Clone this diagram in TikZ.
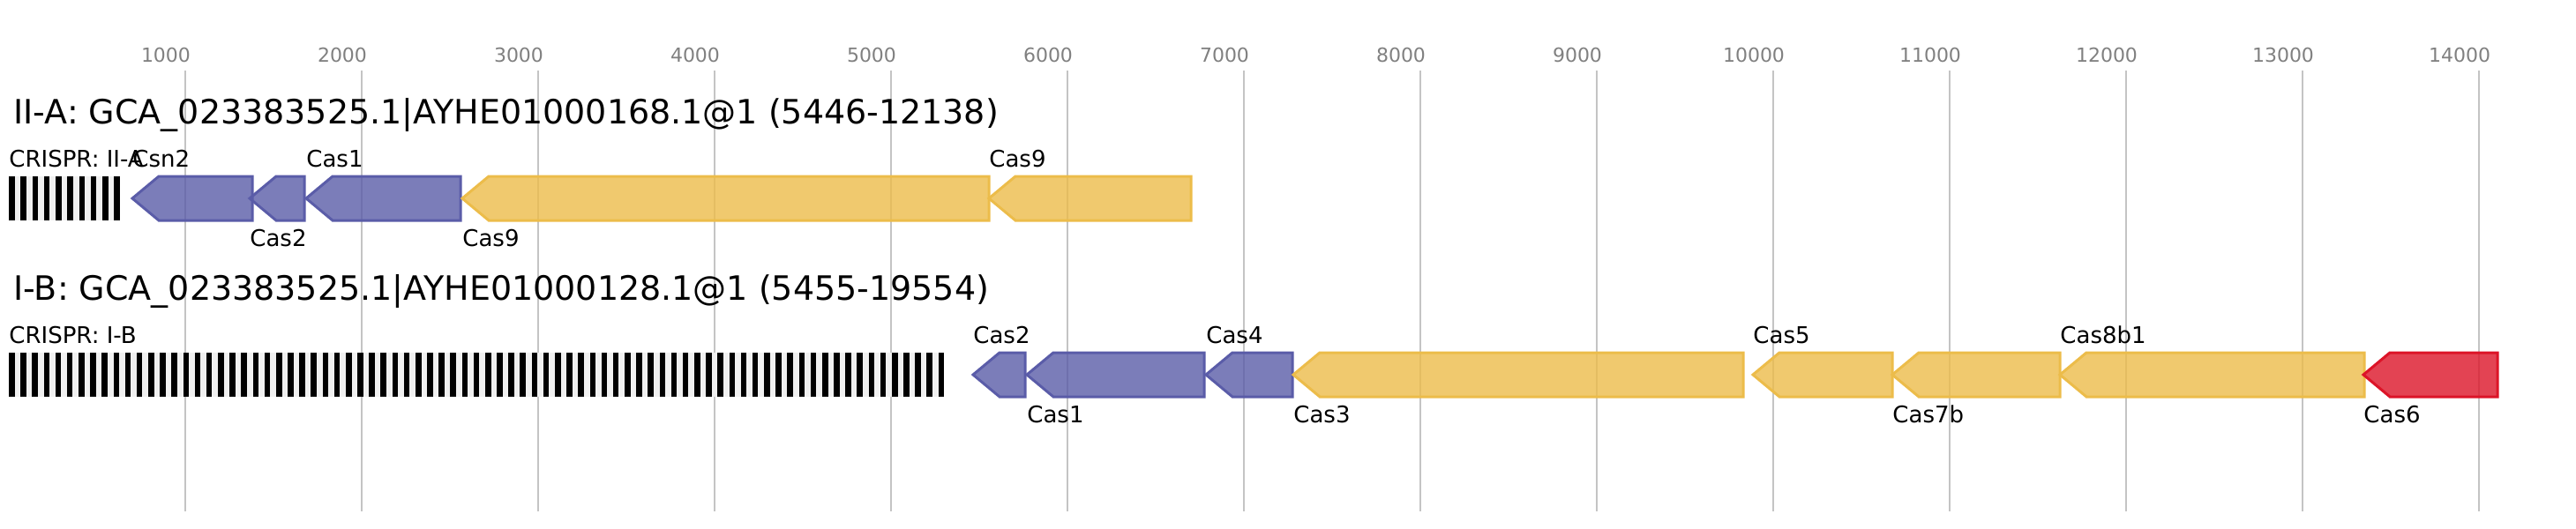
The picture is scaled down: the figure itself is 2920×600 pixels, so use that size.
\documentclass[tikz,border=0pt]{standalone}
\usepackage{fontspec}
\setmainfont{DejaVu Sans}
\definecolor{casblue}{HTML}{5A5CA8}
\definecolor{casyellow}{HTML}{ECBC4A}
\definecolor{casred}{HTML}{DC1428}
\definecolor{gridgray}{HTML}{C4C4C4}
\definecolor{tickgray}{HTML}{808080}
\definecolor{spacergray}{HTML}{F0F0F0}
\tikzset{
  gridline/.style={gridgray, line width=1pt},
  ticklabel/.style={anchor=base, text=tickgray, inner sep=0pt, font=\fontsize{11}{13}\selectfont},
  locustitle/.style={anchor=base west, inner sep=0pt, font=\fontsize{19}{23}\selectfont},
  genelabel/.style={anchor=base west, inner sep=0pt, font=\fontsize{13}{15}\selectfont},
  gene/.style={draw=#1, fill=#1, fill opacity=0.8, line width=1.5pt},
}
\begin{document}
\begin{tikzpicture}[x=0.5pt, y=-0.5pt]
    \useasboundingbox (0,0) rectangle (2920,600);
    \foreach \k in {1,...,14} {
        \draw[gridline] (10+200*\k,80) -- (10+200*\k,580);
        \node[ticklabel] (tick\k) at (200*\k-12,70) {\k000};
    }
    \node[locustitle] (titleA) at (15,140) {II-A: GCA\_023383525.1|AYHE01000168.1@1 (5446-12138)};
    \node[locustitle] (titleB) at (15,340) {I-B: GCA\_023383525.1|AYHE01000128.1@1 (5455-19554)};
    % crispr arrays
    \fill[spacergray] (10,200) rectangle (136,250);
    \foreach \i in {0,...,9} \fill[black] (10+13.26*\i,200) rectangle ++(6.6,50);
    \fill[spacergray] (10,400) rectangle (1070,450);
    \foreach \i in {0,...,80} \fill[black] (10+13.17*\i,400) rectangle ++(6.6,50);
    \node[genelabel] (crisprA) at (10,189) {CRISPR: II-A};
    \node[genelabel] (crisprB) at (10,389) {CRISPR: I-B};
    % II-A genes
    \foreach \tip/\tail/\col in {150/286/casblue, 283/345/casblue, 347/522/casblue, 524/1121/casyellow, 1121/1350/casyellow}
        \draw[gene=\col] (\tip,225) -- (\tip+30,200) -- (\tail,200) -- (\tail,250) -- (\tip+30,250) -- cycle;
    \node[genelabel] (csn2A) at (150,189) {Csn2};
    \node[genelabel] (cas2A) at (283,279) {Cas2};
    \node[genelabel] (cas1A) at (347,189) {Cas1};
    \node[genelabel] (cas9A) at (524,279) {Cas9};
    \node[genelabel] (cas9Ab) at (1121,189) {Cas9};
    % I-B genes
    \foreach \tip/\tail/\col in {1103/1162/casblue, 1164/1365/casblue, 1367/1465/casblue, 1466/1976/casyellow, 1987/2145/casyellow, 2145/2335/casyellow, 2335/2680/casyellow, 2679/2831/casred}
        \draw[gene=\col] (\tip,425) -- (\tip+30,400) -- (\tail,400) -- (\tail,450) -- (\tip+30,450) -- cycle;
    \node[genelabel] (cas2B) at (1103,389) {Cas2};
    \node[genelabel] (cas1B) at (1164,479) {Cas1};
    \node[genelabel] (cas4B) at (1367,389) {Cas4};
    \node[genelabel] (cas3B) at (1466,479) {Cas3};
    \node[genelabel] (cas5B) at (1987,389) {Cas5};
    \node[genelabel] (cas7bB) at (2145,479) {Cas7b};
    \node[genelabel] (cas8b1B) at (2335,389) {Cas8b1};
    \node[genelabel] (cas6B) at (2679,479) {Cas6};
\end{tikzpicture}
\end{document}
